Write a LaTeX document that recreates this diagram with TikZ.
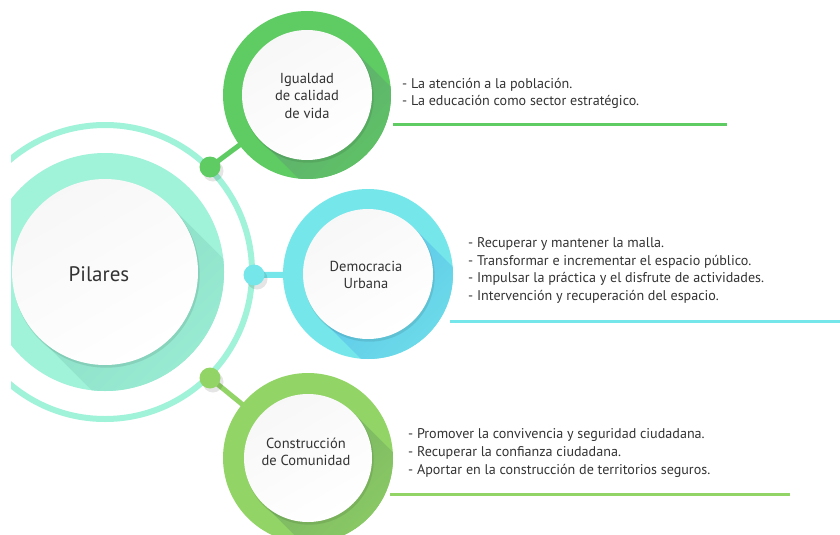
\documentclass[tikz,border=0pt]{standalone}
\usepackage{fontspec}
\setmainfont{PT Sans}
\usetikzlibrary{calc}
\definecolor{mint}{RGB}{160,242,217}
\definecolor{mintdark}{RGB}{138,220,196}
\definecolor{gA}{RGB}{94,204,98}
\definecolor{gAdark}{RGB}{96,170,112}
\definecolor{cyB}{RGB}{117,230,234}
\definecolor{cyBdark}{RGB}{92,196,232}
\definecolor{lmC}{RGB}{146,212,102}
\definecolor{lmCdark}{RGB}{120,178,98}
\definecolor{txt}{RGB}{51,51,51}
\newcommand\lshadow[5]{%
  \begin{scope}
    \clip (#1) circle[radius=#3];
    \shade[top color=#4, bottom color=#5, shading angle=45]
      ($(#1)+(0.7071*#2,-0.7071*#2)$) -- ++(#3,#3)
      -- ($(#1)+(-0.7071*#2+#3,0.7071*#2+#3)$)
      -- ($(#1)+(-0.7071*#2,0.7071*#2)$) -- cycle;
  \end{scope}}
\newcommand\wcircle[2]{%
  \fill[black, opacity=0.09] ($(#1)+(1.2,2.2)$) circle[radius=#2+0.5];
  \shade[top color=black!3, bottom color=white, shading angle=30] (#1) circle[radius=#2];}
\tikzset{
  conn/.style={line width=5pt, line cap=round},
  dotnode/.style={circle, minimum size=21pt, inner sep=0pt},
  lbl/.style={font=\fontsize{14.5}{17.5}\selectfont, text=txt, align=center},
  bullets/.style={font=\fontsize{14.1}{17.7}\selectfont, text=txt, align=left, anchor=west, inner sep=0pt},
  rule/.style={line width=3pt}
}
\begin{document}
\begin{tikzpicture}[x=1pt,y=-1pt]
\useasboundingbox (0,0) rectangle (840,535);
\coordinate (P) at (105,272);
\coordinate (A) at (307,95);
\coordinate (B) at (368,274);
\coordinate (C) at (308,458);
\begin{scope}
\clip (11,0) rectangle (840,535);
% central pillar
\draw[mint, line width=6pt] (P) circle[radius=147];
\fill[mint] (P) circle[radius=119];
\lshadow{P}{93}{119}{mintdark}{mint}
\wcircle{P}{93}
\node[font=\fontsize{21}{26}\selectfont, text=txt] (pil) at (99,274) {Pilares};
% dot positions
\coordinate (dA) at (210,167);
\coordinate (dB) at (254,275);
\coordinate (dC) at (210,378);
% connectors
\draw[conn, gA] (dA) -- (A);
\draw[conn, cyB, line width=6pt] (dB) -- (B);
\draw[conn, lmC] (dC) -- (C);
% dot shadows
\fill[black, opacity=0.10] ($(dA)+(3,4)$) circle[radius=10.5];
\fill[black, opacity=0.10] ($(dB)+(3,4)$) circle[radius=10.5];
\fill[black, opacity=0.10] ($(dC)+(3,4)$) circle[radius=10.5];
\node[dotnode, fill=gA] (nA) at (dA) {};
\node[dotnode, fill=cyB] (nB) at (dB) {};
\node[dotnode, fill=lmC] (nC) at (dC) {};
% circle A
\fill[gA] (A) circle[radius=84];
\lshadow{A}{65}{84}{gAdark}{gA}
\wcircle{A}{65}
\node[lbl] (tA) at (307,96) {Igualdad\\de calidad\\de vida};
% circle B
\fill[cyB] (B) circle[radius=85];
\lshadow{B}{65}{85}{cyBdark}{cyB}
\wcircle{B}{65}
\node[lbl] (tB) at (366,275) {Democracia\\Urbana};
% circle C
\fill[lmC] (C) circle[radius=85];
\lshadow{C}{64}{85}{lmCdark}{lmC}
\wcircle{C}{64}
\node[lbl] (tC) at (306,452) {Construcción\\de Comunidad};
\end{scope}
% bullet texts
\node[bullets] (bA) at (402,93.5) {- La atención a la población.\\- La educación como sector estratégico.};
\node[bullets] (bB) at (468,270.5) {- Recuperar y mantener la malla.\\- Transformar e incrementar el espacio público.\\- Impulsar la práctica y el disfrute de actividades.\\- Intervención y recuperación del espacio.};
\node[bullets] (bC) at (408,453) {- Promover la convivencia y seguridad ciudadana.\\- Recuperar la confianza ciudadana.\\- Aportar en la construcción de territorios seguros.};
% rules
\coordinate (rA1) at (393,124); \coordinate (rA2) at (727,124);
\coordinate (rB1) at (450,321); \coordinate (rB2) at (840,321);
\coordinate (rC1) at (390,494); \coordinate (rC2) at (790,494);
\draw[rule, gA] (rA1) -- (rA2);
\draw[rule, cyB] (rB1) -- (rB2);
\draw[rule, lmC] (rC1) -- (rC2);
\end{tikzpicture}
\end{document}
